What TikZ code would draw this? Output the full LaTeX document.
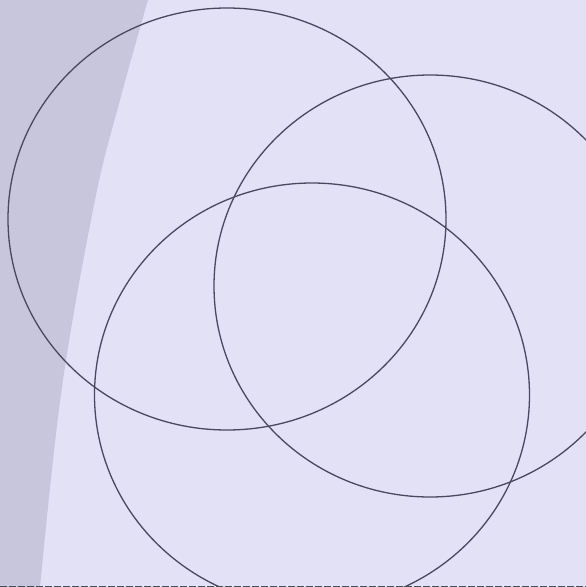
\documentclass[tikz,border=0pt]{standalone}
\usepackage{tikz}
\usetikzlibrary{shapes.geometric}

\definecolor{paper}{RGB}{227,225,245}
\definecolor{stripgray}{RGB}{200,198,220}
\definecolor{ink}{RGB}{72,72,96}

\tikzset{
  set/.style={ellipse, draw=ink, line width=1.3pt, inner sep=0pt},
}

\begin{document}
\begin{tikzpicture}[x=1pt, y=-1pt]
  % page and the darker strip on the left
  \fill[paper] (0,0) rectangle (586,587);
  \fill[stripgray] (0,587) -- (0,0) -- plot[smooth, tension=0.6] coordinates {(148,0) (120,100) (95,200) (62,387) (40,587)} -- cycle;
  \useasboundingbox (0,0) rectangle (586,587);

  % the three sets
  \node[set, minimum width=438pt, minimum height=422pt] (A) at (227,219) {};
  \node[set, minimum width=432pt, minimum height=422pt] (B) at (430,286) {};
  \node[set, minimum width=435pt, minimum height=424pt] (C) at (312,395) {};

  % edge of the scan
  \draw[ink, line width=1.2pt, dash pattern=on 7pt off 2pt] (0,586.4) -- (586,586.4);
\end{tikzpicture}
\end{document}
